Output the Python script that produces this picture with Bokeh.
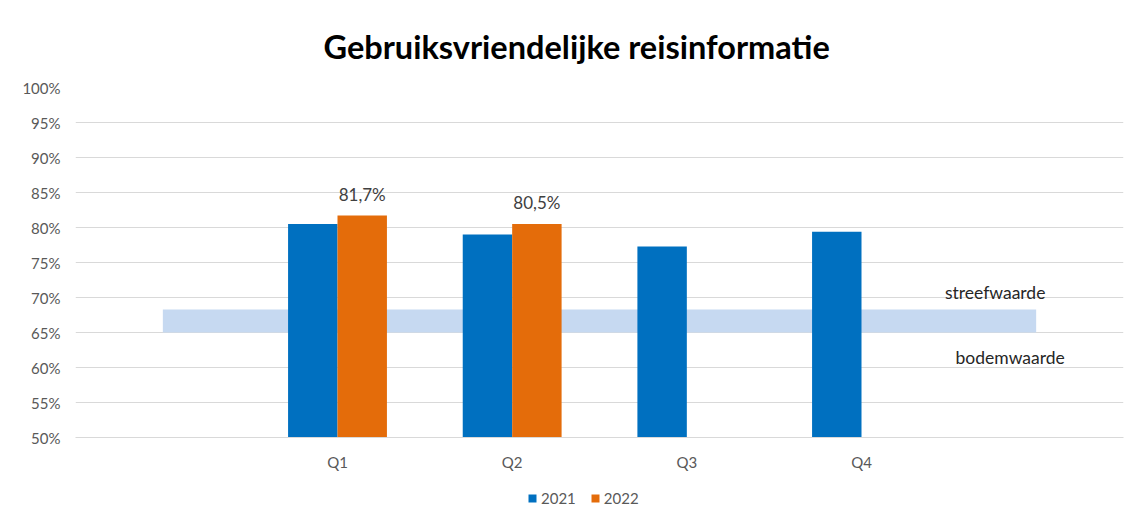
from bokeh.plotting import figure
from bokeh.layouts import column
from bokeh.models import FactorRange, Range1d, Legend, LegendItem, ColumnDataSource, FixedTicker, PrintfTickFormatter
from bokeh.transform import dodge
from bokeh.core.properties import value
from bokeh.embed import file_html
from bokeh.resources import INLINE

title = "Gebruiksvriendelijke reisinformatie"
categories = [" ", "Q1", "Q2", "Q3", "Q4", "  "]
quarters_2021 = ["Q1", "Q2", "Q3", "Q4"]
values_2021 = [80.5, 79.0, 77.3, 79.4]
quarters_2022 = ["Q1", "Q2"]
values_2022 = [81.7, 80.5]
series_names = ["2021", "2022"]
bodemwaarde = 65.0
streefwaarde = 68.3
y_ticks = [50, 55, 60, 65, 70, 75, 80, 85, 90, 95, 100]

FONT = "Lato"
BLUE = "#0070C0"
ORANGE = "#E46C0A"
BAND = "#C6D9F1"
GREY_TXT = "#595959"
GRID = "#D9D9D9"

p = figure(x_range=FactorRange(*categories), y_range=Range1d(50, 100),
           frame_width=1048, frame_height=350, output_backend="svg", toolbar_location=None,
           min_border_left=75, min_border_right=3, min_border_top=87, min_border_bottom=43)
p.outline_line_color = None
p.background_fill_color = "white"

p.title.text = title
p.title.align = "left"
p.title.text_font = FONT
p.title.text_font_style = "bold"
p.title.text_font_size = "32.5px"
p.title.text_color = "#000000"
p.title.offset = 248
p.title.standoff = 44

# band between bodemwaarde and streefwaarde
p.varea(x=[categories[0], categories[-1]], y1=[bodemwaarde] * 2, y2=[streefwaarde] * 2,
        fill_color=BAND)

w = 0.283
src21 = ColumnDataSource(dict(x=quarters_2021, top=values_2021))
src22 = ColumnDataSource(dict(x=quarters_2022, top=values_2022,
                              lbl=[f"{v:.1f}%".replace(".", ",") for v in values_2022]))
p.vbar(x=dodge("x", -w / 2, range=p.x_range), top="top", bottom=50, width=w,
       source=src21, fill_color=BLUE, line_color=None)
p.vbar(x=dodge("x", w / 2, range=p.x_range), top="top", bottom=50, width=w,
       source=src22, fill_color=ORANGE, line_color=None)
p.text(x=dodge("x", w / 2, range=p.x_range), y="top", text="lbl", source=src22,
       text_align="center", text_baseline="bottom", y_offset=-11,
       text_font=value(FONT), text_font_size="17px", text_color="#404040")

# streefwaarde / bodemwaarde labels
p.text(x=[categories[-1]], y=[streefwaarde], text=["streefwaarde"], x_offset=-41, y_offset=-6,
       text_align="center", text_baseline="bottom",
       text_font=value(FONT), text_font_size="17.5px", text_color="#262626")
p.text(x=[categories[-1]], y=[bodemwaarde], text=["bodemwaarde"], x_offset=-26, y_offset=14,
       text_align="center", text_baseline="top",
       text_font=value(FONT), text_font_size="17.5px", text_color="#262626")

p.yaxis.ticker = FixedTicker(ticks=y_ticks)
p.yaxis.formatter = PrintfTickFormatter(format="%d%%")
p.yaxis.axis_line_color = None
p.yaxis.major_tick_line_color = None
p.yaxis.minor_tick_line_color = None
p.yaxis.major_label_standoff = 9
p.yaxis.major_label_text_font = FONT
p.yaxis.major_label_text_font_size = "15px"
p.yaxis.major_label_text_color = GREY_TXT

p.xaxis.axis_line_color = GRID
p.xaxis.major_tick_line_color = None
p.xaxis.minor_tick_line_color = None
p.xaxis.major_label_standoff = 9
p.xaxis.major_label_text_font = FONT
p.xaxis.major_label_text_font_size = "15px"
p.xaxis.major_label_text_color = GREY_TXT

p.xgrid.grid_line_color = None
p.ygrid.ticker = FixedTicker(ticks=y_ticks)
p.ygrid.grid_line_color = GRID
p.ygrid.grid_line_width = 1

# legend strip below the chart (frame aligned with the main chart by the column)
lf = figure(width=1126, height=34, output_backend="svg", toolbar_location=None,
            x_range=Range1d(10, 11), y_range=Range1d(10, 11),
            x_axis_location=None, y_axis_location=None,
            min_border_left=0, min_border_right=0, min_border_top=0, min_border_bottom=0)
lf.outline_line_color = None
lf.xgrid.grid_line_color = None
lf.ygrid.grid_line_color = None
l21 = lf.vbar(x=[0], top=[0], bottom=0, width=w, fill_color=BLUE, line_color=None)
l22 = lf.vbar(x=[0], top=[0], bottom=0, width=w, fill_color=ORANGE, line_color=None)
legend = Legend(items=[LegendItem(label=series_names[0], renderers=[l21]),
                       LegendItem(label=series_names[1], renderers=[l22])],
                orientation="horizontal", location=(452, 7),
                label_text_font=FONT, label_text_font_size="15px", label_text_color=GREY_TXT,
                glyph_width=10, glyph_height=10, label_standoff=4, spacing=14,
                border_line_color=None, background_fill_alpha=0, margin=0, padding=0)
lf.add_layout(legend)

open("out.html", "w").write(file_html(column(p, lf), INLINE))
